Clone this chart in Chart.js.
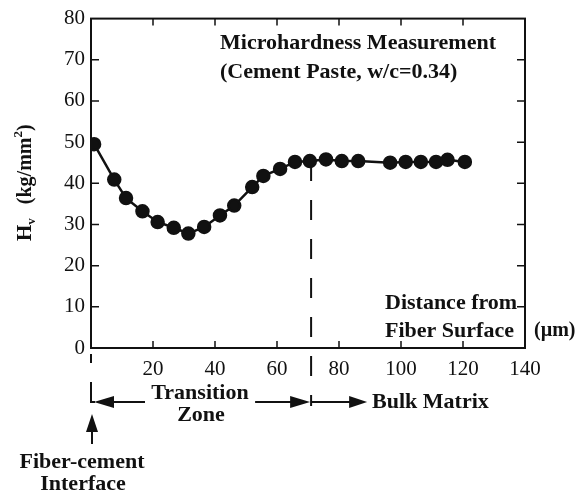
<!DOCTYPE html>
<html>
<head>
<meta charset="utf-8">
<script src="https://cdn.jsdelivr.net/npm/chart.js@4"></script>
<style>
  html, body { margin: 0; padding: 0; background: #fff; }
  #wrap { width: 582px; height: 493px; }
</style>
</head>
<body>
<div id="wrap"><canvas id="hvChart" width="582" height="493"></canvas></div>
<script>
// data
const distance = [1, 7.5, 11.3, 16.6, 21.5, 26.7, 31.4, 36.5, 41.6, 46.2, 52, 55.6, 61, 65.8, 70.6, 75.8, 80.9, 86.2, 96.5, 101.5, 106.4, 111.3, 115, 120.6];
const hardness = [49.5, 40.9, 36.4, 33.2, 30.6, 29.2, 27.8, 29.4, 32.2, 34.6, 39.1, 41.8, 43.5, 45.2, 45.4, 45.8, 45.4, 45.4, 45.0, 45.2, 45.2, 45.2, 45.7, 45.2];
const xTicks = [0, 20, 40, 60, 80, 100, 120, 140];
const yTicks = [0, 10, 20, 30, 40, 50, 60, 70, 80];
const zoneEnd = 71; // end of the transition zone (µm)

const INK = '#111';
const SERIF = '"Liberation Serif", "DejaVu Serif", serif';

function arrowHead(ctx, tipX, tipY, dir, len, half) {
    // dir: 1 = right, -1 = left, 'up'
    ctx.beginPath();
    if (dir === 'up') {
        ctx.moveTo(tipX, tipY);
        ctx.lineTo(tipX - half, tipY + len);
        ctx.lineTo(tipX + half, tipY + len);
    } else {
        ctx.moveTo(tipX, tipY);
        ctx.lineTo(tipX - dir * len, tipY - half);
        ctx.lineTo(tipX - dir * len, tipY + half);
    }
    ctx.closePath();
    ctx.fill();
}

// frame, inward ticks and all the text notes
const framePlugin = {
    id: 'frame',
    beforeDatasetsDraw(chart) {
        const { ctx, chartArea: a, scales: { x, y } } = chart;
        ctx.save();
        ctx.strokeStyle = INK;
        ctx.lineWidth = 2;
        ctx.strokeRect(a.left, a.top, a.right - a.left, a.bottom - a.top);
        ctx.lineWidth = 1.5;
        ctx.beginPath();
        xTicks.forEach(v => {
            if (v === 0 || v === 140) return;
            const px = x.getPixelForValue(v);
            ctx.moveTo(px, a.bottom); ctx.lineTo(px, a.bottom - 7);
            ctx.moveTo(px, a.top); ctx.lineTo(px, a.top + 7);
        });
        yTicks.forEach(v => {
            if (v === 0 || v === 80) return;
            const py = y.getPixelForValue(v);
            ctx.moveTo(a.left, py); ctx.lineTo(a.left + 8, py);
            ctx.moveTo(a.right, py); ctx.lineTo(a.right - 8, py);
        });
        ctx.stroke();

        // dashed line marking end of the transition zone
        const zx = x.getPixelForValue(zoneEnd);
        ctx.setLineDash([20, 19]);
        ctx.lineWidth = 2;
        ctx.beginPath();
        ctx.moveTo(zx, y.getPixelForValue(45.4));
        ctx.lineTo(zx, a.bottom + 58);
        ctx.stroke();
        ctx.setLineDash([]);
        ctx.restore();
    },
    afterDraw(chart) {
        const { ctx, chartArea: a, scales: { x, y } } = chart;
        const x0 = x.getPixelForValue(0);
        const zx = x.getPixelForValue(zoneEnd);
        ctx.save();
        ctx.fillStyle = INK;
        ctx.strokeStyle = INK;

        // notes inside the plot
        ctx.font = 'bold 22px ' + SERIF;
        ctx.textBaseline = 'middle';
        ctx.textAlign = 'left';
        ctx.fillText('Microhardness Measurement', 220, 43);
        ctx.fillText('(Cement Paste, w/c=0.34)', 220, 72);
        ctx.fillText('Distance from', 385, 303);
        ctx.fillText('Fiber Surface', 385, 331);
        ctx.font = 'bold 20px ' + SERIF;
        ctx.fillText('(\u00b5m)', 534, 331);

        // y axis title, rotated
        ctx.save();
        ctx.translate(31, 241);
        ctx.rotate(-Math.PI / 2);
        ctx.textAlign = 'left';
        ctx.textBaseline = 'alphabetic';
        ctx.font = 'bold 21px ' + SERIF;
        ctx.fillText('H', 0, 0);
        let w = ctx.measureText('H').width;
        ctx.font = 'bold 13px ' + SERIF;
        ctx.fillText('v', w, 4);
        w += ctx.measureText('v').width + 14;
        ctx.font = 'bold 20px ' + SERIF;
        ctx.fillText('(kg/mm', w, 0);
        w += ctx.measureText('(kg/mm').width;
        ctx.font = 'bold 13px ' + SERIF;
        ctx.fillText('2', w, -9);
        w += ctx.measureText('2').width;
        ctx.font = 'bold 20px ' + SERIF;
        ctx.fillText(')', w, 0);
        ctx.restore();

        // zone brackets under the axis
        const by = a.bottom + 54;
        ctx.lineWidth = 2;
        ctx.beginPath();
        ctx.moveTo(x0, a.bottom + 6); ctx.lineTo(x0, a.bottom + 15);
        ctx.moveTo(x0, a.bottom + 34); ctx.lineTo(x0, by);
        ctx.lineTo(x0 + 4, by);
        ctx.moveTo(x0 + 18, by); ctx.lineTo(x0 + 54, by);
        ctx.moveTo(zx - 56, by); ctx.lineTo(zx - 18, by);
        ctx.moveTo(zx, by); ctx.lineTo(zx + 40, by);
        ctx.moveTo(x0 + 1, by + 28); ctx.lineTo(x0 + 1, by + 42);
        ctx.stroke();
        arrowHead(ctx, x0 + 3, by, -1, 20, 6);
        arrowHead(ctx, zx - 1, by, 1, 20, 6);
        arrowHead(ctx, zx + 56, by, 1, 18, 6);
        arrowHead(ctx, x0 + 1, by + 12, 'up', 18, 6);

        ctx.font = 'bold 22px ' + SERIF;
        ctx.textAlign = 'center';
        ctx.fillText('Transition', 200, by - 9);
        ctx.fillText('Zone', 201, by + 13);
        ctx.fillText('Fiber-cement', 82, 462);
        ctx.fillText('Interface', 83, 484);
        ctx.textAlign = 'left';
        ctx.fillText('Bulk Matrix', zx + 61, by);
        ctx.restore();
    }
};

new Chart(document.getElementById('hvChart'), {
    type: 'scatter',
    data: {
        datasets: [{
            data: distance.map((d, i) => ({ x: d, y: hardness[i] })),
            showLine: true,
            borderColor: INK,
            borderWidth: 2.5,
            backgroundColor: INK,
            pointRadius: 6,
            pointHoverRadius: 6
        }]
    },
    options: {
        responsive: false,
        animation: false,
        layout: { padding: { top: 18, right: 57, left: 0, bottom: 0 } },
        plugins: { legend: { display: false }, tooltip: { enabled: false } },
        scales: {
            x: {
                type: 'linear', min: 0, max: 140,
                border: { display: false },
                grid: { display: false, drawTicks: false },
                afterFit: s => { s.height = 145; },
                afterBuildTicks: s => { s.ticks = xTicks.map(v => ({ value: v })); },
                ticks: {
                    padding: 9, color: INK, maxRotation: 0,
                    font: { family: SERIF, size: 21 },
                    callback: v => (v === 0 ? '' : v)
                }
            },
            y: {
                min: 0, max: 80,
                border: { display: false },
                grid: { display: false, drawTicks: false },
                afterFit: s => { s.width = 91; },
                afterBuildTicks: s => { s.ticks = yTicks.map(v => ({ value: v })); },
                ticks: { padding: 6, color: INK, font: { family: SERIF, size: 21 } }
            }
        }
    },
    plugins: [framePlugin]
});
</script>
</body>
</html>
